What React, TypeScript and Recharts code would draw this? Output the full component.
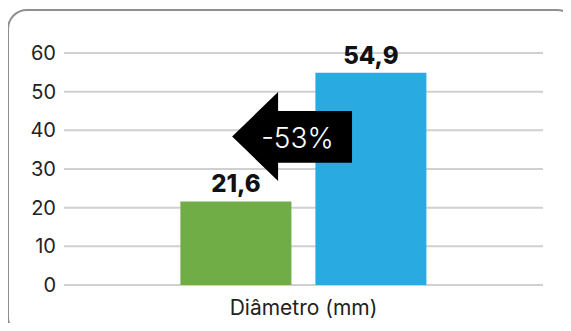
import React from "react";
import { BarChart, Bar, XAxis, YAxis, CartesianGrid, LabelList } from "recharts";

const categories = ["Diâmetro (mm)"];
const seriesGreen = [21.6];
const seriesBlue = [54.9];
const yTicks = [0, 10, 20, 30, 40, 50, 60];
const changeLabel = "-53%";

// arrow annotation geometry, in data units (y) and bar-width fractions (x), relative to the blue bar
const arrowShape = {
  shaftTop: 45.0,
  shaftBottom: 31.6,
  headTop: 49.9,
  headBottom: 26.9,
  tipValue: 38.4,
  shaftRight: 0.33,
  headBase: -0.336,
  tip: -0.75,
  textCenter: -0.162,
};

const data = categories.map((c, i) => ({ name: c, green: seriesGreen[i], blue: seriesBlue[i] }));

const FONT = "Inter, 'Noto Sans', sans-serif";

const fmt = (v: number) => String(v).replace(".", ",");

const ValueLabel = (props: any) => {
  const { x, y, width, value } = props;
  return (
    <text x={x + width / 2} y={y - 9} textAnchor="middle" fontFamily={FONT} fontWeight={800} fontSize={24} fill="#111">
      {fmt(value)}
    </text>
  );
};

const BlueLabel = (props: any) => {
  const { x, y, width, height, value } = props;
  const bottom = y + height;
  const ppu = height / value;
  const Y = (v: number) => bottom - v * ppu;
  const X = (f: number) => x + f * width;
  const a = arrowShape;
  const pts = [
    [X(a.tip), Y(a.tipValue)],
    [X(a.headBase), Y(a.headTop)],
    [X(a.headBase), Y(a.shaftTop)],
    [X(a.shaftRight), Y(a.shaftTop)],
    [X(a.shaftRight), Y(a.shaftBottom)],
    [X(a.headBase), Y(a.shaftBottom)],
    [X(a.headBase), Y(a.headBottom)],
  ]
    .map((p) => p.join(","))
    .join(" ");
  return (
    <g>
      <ValueLabel {...props} />
      <polygon points={pts} fill="#000" />
      <text x={X(a.textCenter)} y={Y(a.tipValue) + 11} textAnchor="middle" fontFamily={FONT} fontWeight={300} fontSize={28} fill="#fff">
        {changeLabel}
      </text>
    </g>
  );
};

const XTick = (props: any) => {
  const { x, y, payload } = props;
  return (
    <text x={x} y={y + 22} textAnchor="middle" fontFamily={FONT} fontSize={21} fill="#222">
      {payload.value}
    </text>
  );
};

export default function App() {
  return (
    <div style={{ margin: -8, width: 571, height: 331, position: "relative", overflow: "hidden", background: "#fff" }}>
      <div
        style={{
          position: "absolute",
          left: 7,
          top: 9,
          width: 570,
          height: 328,
          border: "2px solid #8f8f8f",
          borderRadius: 20,
          boxSizing: "border-box",
        }}
      />
      <div style={{ position: "absolute", left: 0, top: 0 }}>
        <BarChart
          width={571}
          height={331}
          data={data}
          margin={{ top: 53, right: 28, left: 0, bottom: 16 }}
          barCategoryGap="24.3%"
          barGap={24}
        >
          <CartesianGrid vertical={false} stroke="#d0d0d0" strokeWidth={2} />
          <XAxis dataKey="name" axisLine={false} tickLine={false} height={30} tick={<XTick />} />
          <YAxis
            width={64}
            domain={[0, 60]}
            ticks={yTicks}
            axisLine={false}
            tickLine={false}
            tick={{ fontFamily: FONT, fontSize: 20, fill: "#222" }}
          />
          <Bar dataKey="green" fill="#70AD47" isAnimationActive={false}>
            <LabelList dataKey="green" content={<ValueLabel />} />
          </Bar>
          <Bar dataKey="blue" fill="#29ABE2" isAnimationActive={false}>
            <LabelList dataKey="blue" content={<BlueLabel />} />
          </Bar>
        </BarChart>
      </div>
    </div>
  );
}
